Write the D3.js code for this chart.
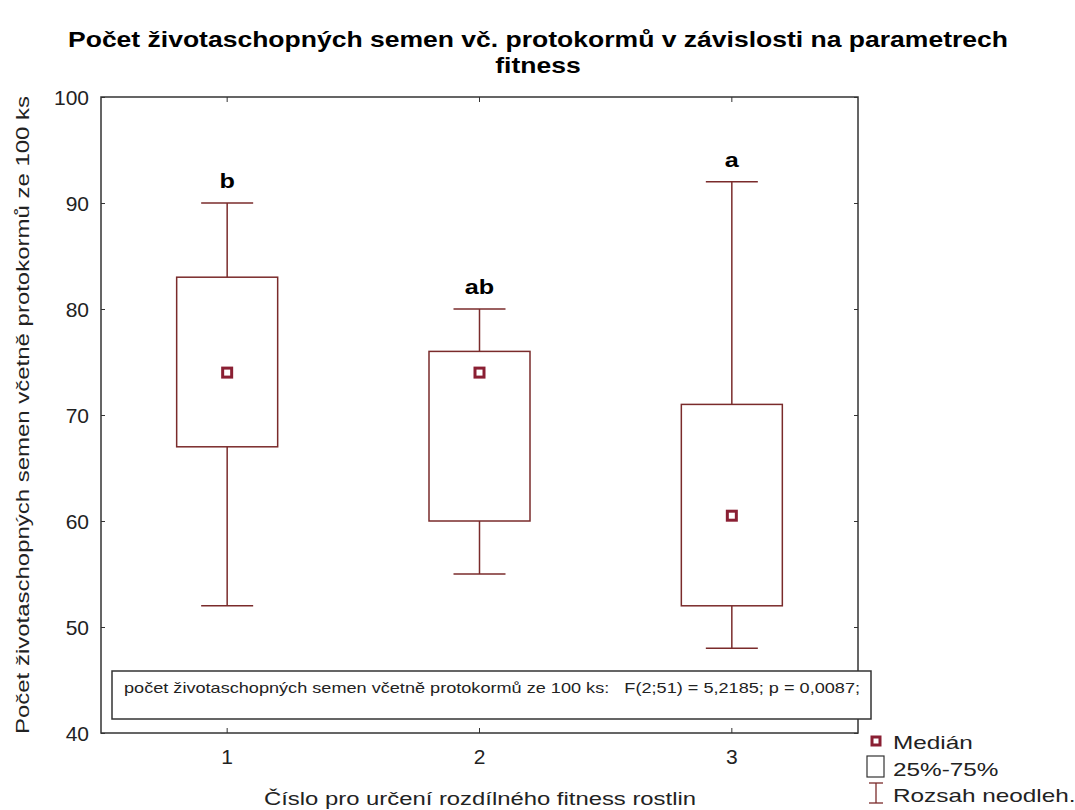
<!DOCTYPE html>
<html>
<head>
<meta charset="utf-8">
<script src="https://cdn.jsdelivr.net/npm/d3@7"></script>
<style>
  body { margin: 0; background: #fff; }
  text { font-family: "Liberation Sans", Arial, sans-serif; }
</style>
</head>
<body>
<svg id="chart" width="1075" height="810"></svg>
<script>
// data
const groups = ['1', '2', '3'];
const whiskerLow = [52, 55, 48];
const q1 = [67, 60, 52];
const medians = [74, 74, 60.5];
const q3 = [83, 76, 71];
const whiskerHigh = [90, 80, 92];
const letters = ['b', 'ab', 'a'];
const yTicks = [40, 50, 60, 70, 80, 90, 100];

const boxColor = '#7a2b2b';
const medColor = '#8a1f33';

const svg = d3.select('#chart');
const margin = { top: 97, right: 217, bottom: 77, left: 101 };
const width = 1075 - margin.left - margin.right;
const height = 810 - margin.top - margin.bottom;

const x = d3.scaleBand().domain(groups).range([0, width]);
const y = d3.scaleLinear().domain([40, 100]).range([height, 0]);

// the reference text is drawn a bit wider than the font
function stretch(sel, k) {
  sel.each(function () {
    const w = this.getComputedTextLength();
    d3.select(this).attr('textLength', w * k).attr('lengthAdjust', 'spacingAndGlyphs');
  });
  return sel;
}

const g = svg.append('g').attr('transform', `translate(${margin.left},${margin.top})`);

// title
const t1 = svg.append('text').attr('x', 538).attr('y', 47).attr('text-anchor', 'middle')
  .style('font-size', '22px').style('font-weight', 'bold')
  .text('Počet životaschopných semen vč. protokormů v závislosti na parametrech');
const k = 940 / t1.node().getComputedTextLength();
stretch(t1, k);
stretch(svg.append('text').attr('x', 538).attr('y', 73).attr('text-anchor', 'middle')
  .style('font-size', '22px').style('font-weight', 'bold')
  .text('fitness'), k);

// axes with inward ticks
const yAxis = g.append('g').call(d3.axisLeft(y).tickValues(yTicks).tickSize(-4).tickPadding(12));
const xAxis = g.append('g').attr('transform', `translate(0,${height})`)
  .call(d3.axisBottom(x).tickSize(-5).tickPadding(16));
g.append('g').call(d3.axisTop(x).tickSize(-5).tickFormat(''));
g.append('g').attr('transform', `translate(${width},0)`)
  .call(d3.axisRight(y).tickValues(yTicks).tickSize(-4).tickFormat(''));
g.selectAll('.domain').remove();
g.selectAll('.tick line').attr('stroke', '#333');
yAxis.selectAll('text').style('font-size', '21px').attr('fill', '#222').attr('dy', '0.35em');
xAxis.selectAll('text').style('font-size', '21px').attr('fill', '#222');

g.append('rect').attr('width', width).attr('height', height)
  .attr('fill', 'none').attr('stroke', '#333').attr('stroke-width', 1.5);

// boxes
const boxW = 101, capW = 52;
groups.forEach((grp, i) => {
  const cx = x(grp) + x.bandwidth() / 2;
  const bg = g.append('g').attr('stroke', boxColor).attr('stroke-width', 1.5).attr('fill', 'none');
  bg.append('line').attr('x1', cx).attr('x2', cx).attr('y1', y(whiskerHigh[i])).attr('y2', y(q3[i]));
  bg.append('line').attr('x1', cx).attr('x2', cx).attr('y1', y(q1[i])).attr('y2', y(whiskerLow[i]));
  bg.append('line').attr('x1', cx - capW / 2).attr('x2', cx + capW / 2)
    .attr('y1', y(whiskerHigh[i])).attr('y2', y(whiskerHigh[i]));
  bg.append('line').attr('x1', cx - capW / 2).attr('x2', cx + capW / 2)
    .attr('y1', y(whiskerLow[i])).attr('y2', y(whiskerLow[i]));
  bg.append('rect').attr('x', cx - boxW / 2).attr('width', boxW)
    .attr('y', y(q3[i])).attr('height', y(q1[i]) - y(q3[i]));
  g.append('rect').attr('x', cx - 4.5).attr('y', y(medians[i]) - 4.5)
    .attr('width', 9).attr('height', 9)
    .attr('fill', '#fff').attr('stroke', medColor).attr('stroke-width', 3);
  stretch(g.append('text').attr('x', cx).attr('y', y(whiskerHigh[i]) - 15)
    .attr('text-anchor', 'middle').style('font-size', '21px').style('font-weight', 'bold')
    .text(letters[i]), 1.2);
});

// statistics box
const tb = svg.append('g');
tb.append('rect').attr('x', 112).attr('y', 671).attr('width', 759).attr('height', 48)
  .attr('fill', '#fff').attr('stroke', '#333').attr('stroke-width', 1.5);
tb.append('text').attr('x', 124).attr('y', 693).style('font-size', '15px').attr('fill', '#222')
  .attr('xml:space', 'preserve')
  .attr('textLength', 736).attr('lengthAdjust', 'spacingAndGlyphs')
  .text('počet životaschopných semen včetně protokormů ze 100 ks:   F(2;51) = 5,2185; p = 0,0087;');

// axis labels
svg.append('text').attr('x', 480).attr('y', 805).attr('text-anchor', 'middle')
  .style('font-size', '18px').attr('fill', '#222')
  .attr('textLength', 432).attr('lengthAdjust', 'spacingAndGlyphs')
  .text('Číslo pro určení rozdílného fitness rostlin');
svg.append('text').attr('transform', 'translate(29,415) rotate(-90)').attr('text-anchor', 'middle')
  .style('font-size', '18px').attr('fill', '#222')
  .attr('textLength', 638).attr('lengthAdjust', 'spacingAndGlyphs')
  .text('Počet životaschopných semen včetně protokormů ze 100 ks');

// legend
const lg = svg.append('g');
lg.append('rect').attr('x', 872).attr('y', 737).attr('width', 8).attr('height', 8)
  .attr('fill', '#fff').attr('stroke', medColor).attr('stroke-width', 3);
stretch(lg.append('text').attr('x', 893).attr('y', 749).style('font-size', '19px').attr('fill', '#222')
  .text('Medián'), 1.28);
lg.append('rect').attr('x', 867).attr('y', 756).attr('width', 17).attr('height', 21)
  .attr('fill', 'none').attr('stroke', '#333').attr('stroke-width', 1.2);
stretch(lg.append('text').attr('x', 893).attr('y', 776).style('font-size', '19px').attr('fill', '#222')
  .text('25%-75%'), 1.28);
const wg = lg.append('g').attr('stroke', boxColor).attr('stroke-width', 1.3);
wg.append('line').attr('x1', 876).attr('x2', 876).attr('y1', 783).attr('y2', 803);
wg.append('line').attr('x1', 869).attr('x2', 883).attr('y1', 783).attr('y2', 783);
wg.append('line').attr('x1', 869).attr('x2', 883).attr('y1', 803).attr('y2', 803);
stretch(lg.append('text').attr('x', 893).attr('y', 802).style('font-size', '19px').attr('fill', '#222')
  .text('Rozsah neodleh.'), 1.28);
</script>
</body>
</html>
